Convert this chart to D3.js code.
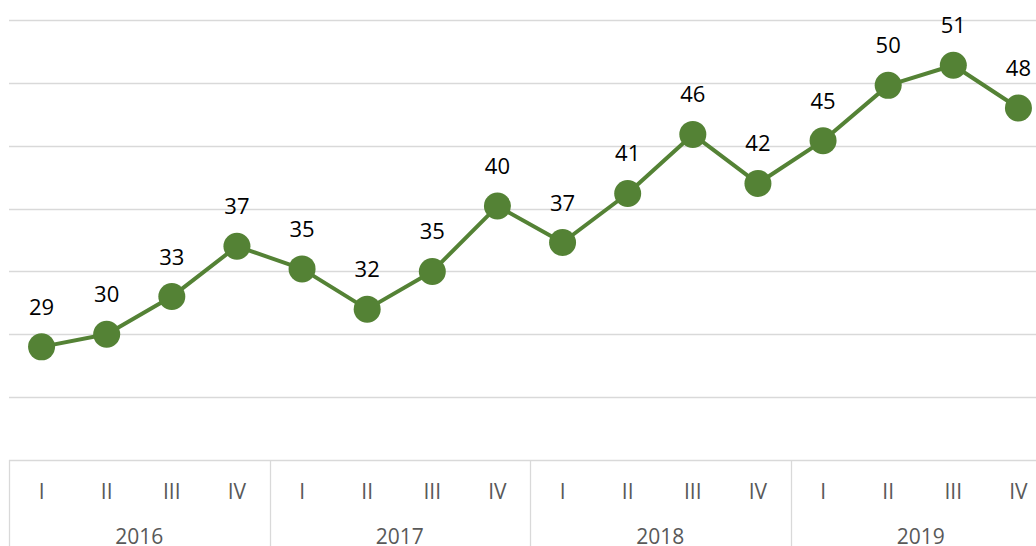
<!doctype html>
<html>
<head>
  <style>
    body { margin: 0; background: #fff; }
    svg { display: block; }
  </style>
  <script src="https://cdn.jsdelivr.net/npm/d3@7"></script>
</head>
<body>
  <script>
  var years = ["2016", "2017", "2018", "2019"];
  var quarters = ["I", "II", "III", "IV"];
  var values = [29.0, 30.0, 33.0, 37.0, 35.2, 32.0, 35.0, 40.2,
                37.3, 41.2, 45.9, 42.0, 45.4, 49.8, 51.4, 48.0];
  var yTicks = [25, 30, 35, 40, 45, 50, 55];

  var svgW = 1036;
  var svgH = 546;

  var svg = d3.select("body")
            .append("svg")
            .attr("width", svgW)
            .attr("height", svgH);

  var axisY = 460;   // top of the category box

  // one band per quarter, the plot runs a bit past the right edge
  var x = d3.scaleBand()
            .domain(d3.range(values.length))
            .range([9, 1051])
            .padding(0);

  var y = d3.scaleLinear()
            .domain([20, 55])
            .range([axisY, 20]);

  var cx = function(i) { return x(i) + x.bandwidth() / 2; };

  // horizontal gridlines
  svg.selectAll("line.grid")
     .data(yTicks)
     .enter()
     .append("line")
     .attr("class", "grid")
     .attr("x1", 9)
     .attr("x2", svgW)
     .attr("y1", function(d) { return Math.round(y(d)) + 0.5; })
     .attr("y2", function(d) { return Math.round(y(d)) + 0.5; })
     .attr("stroke", "#d9d9d9")
     .attr("stroke-width", 1.3);

  // category box: top line and year separators
  svg.append("line")
     .attr("x1", 9).attr("x2", svgW)
     .attr("y1", axisY + 0.5).attr("y2", axisY + 0.5)
     .attr("stroke", "#d9d9d9")
     .attr("stroke-width", 1.3);

  svg.selectAll("line.sep")
     .data(d3.range(years.length + 1))
     .enter()
     .append("line")
     .attr("class", "sep")
     .attr("x1", function(d) { return Math.round(x.range()[0] + d * 4 * x.bandwidth()) + 0.5; })
     .attr("x2", function(d) { return Math.round(x.range()[0] + d * 4 * x.bandwidth()) + 0.5; })
     .attr("y1", axisY)
     .attr("y2", svgH)
     .attr("stroke", "#d9d9d9")
     .attr("stroke-width", 1.3);

  // quarter labels
  svg.selectAll("text.q")
     .data(values)
     .enter()
     .append("text")
     .attr("class", "q")
     .text(function(d, i) { return quarters[i % 4]; })
     .attr("x", function(d, i) { return cx(i); })
     .attr("y", 499)
     .attr("font-family", "Open Sans, sans-serif")
     .attr("font-size", "21px")
     .attr("fill", "#595959")
     .attr("text-anchor", "middle");

  // year labels
  svg.selectAll("text.yr")
     .data(years)
     .enter()
     .append("text")
     .attr("class", "yr")
     .text(function(d) { return d; })
     .attr("x", function(d, i) { return x.range()[0] + (i * 4 + 2) * x.bandwidth(); })
     .attr("y", 544)
     .attr("font-family", "Open Sans, sans-serif")
     .attr("font-size", "21px")
     .attr("fill", "#595959")
     .attr("text-anchor", "middle");

  // the line
  var line = d3.line()
               .x(function(d, i) { return cx(i); })
               .y(function(d) { return y(d); });

  svg.append("path")
     .datum(values)
     .attr("d", line)
     .attr("fill", "none")
     .attr("stroke", "#548235")
     .attr("stroke-width", 4)
     .attr("stroke-linejoin", "round");

  svg.selectAll("circle")
     .data(values)
     .enter()
     .append("circle")
     .attr("cx", function(d, i) { return cx(i); })
     .attr("cy", function(d) { return y(d); })
     .attr("r", 13.5)
     .attr("fill", "#548235");

  // data labels
  svg.selectAll("text.lbl")
     .data(values)
     .enter()
     .append("text")
     .attr("class", "lbl")
     .text(function(d) { return d3.format(".0f")(d); })
     .attr("x", function(d, i) { return cx(i); })
     .attr("y", function(d) { return y(d) - 32; })
     .attr("font-family", "Open Sans, sans-serif")
     .attr("font-size", "22px")
     .attr("fill", "#000")
     .attr("text-anchor", "middle");
  </script>
</body>
</html>
